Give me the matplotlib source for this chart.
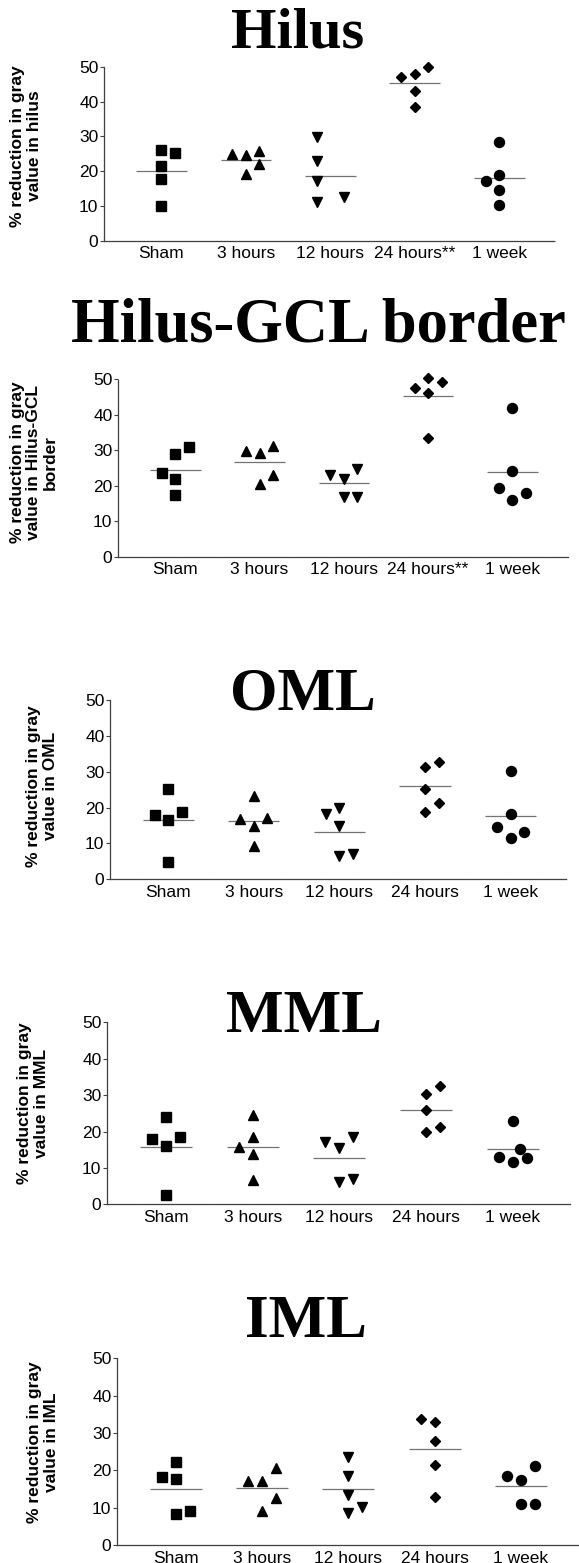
import matplotlib
matplotlib.use('Agg')

import numpy as np
import matplotlib.pyplot as plt

plt.rcParams['font.family'] = 'Liberation Sans'

# groups and symbols
groups = ['Sham', '3 hours', '12 hours', '24 hours', '1 week']
groups_sig = ['Sham', '3 hours', '12 hours', '24 hours**', '1 week']
markers = ['s', '^', 'v', 'D', 'o']

# % reduction in gray value, 5 animals per group
hilus = [[26.1, 25.3, 21.6, 17.7, 10.1],
         [24.9, 24.5, 25.9, 21.9, 19.2],
         [29.7, 22.8, 17.1, 11.0, 12.5],
         [46.9, 47.9, 50.0, 43.1, 38.3],
         [28.5, 18.9, 17.1, 14.6, 10.3]]
hilus_slots = [[0, 1, 0, 0, 0], [-1, 0, 1, 1, 0], [-1, -1, -1, -1, 1],
               [-1, 0, 1, 0, 0], [0, 0, -1, 0, 0]]

border = [[28.9, 30.8, 23.5, 21.8, 17.4],
          [29.8, 29.3, 31.2, 23.0, 20.5],
          [23.0, 22.0, 24.7, 16.9, 16.9],
          [47.4, 50.3, 49.2, 46.0, 33.3],
          [41.7, 24.2, 19.2, 18.0, 15.9]]
border_slots = [[0, 1, -1, 0, 0], [-1, 0, 1, 1, 0], [-1, 0, 1, 0, 1],
                [-1, 0, 1, 0, 0], [0, 0, -1, 1, 0]]

oml = [[25.2, 17.8, 18.7, 16.4, 4.9],
       [23.3, 16.7, 17.0, 14.9, 9.4],
       [18.2, 19.8, 15.0, 6.5, 7.0],
       [31.4, 32.8, 25.1, 21.4, 18.7],
       [30.2, 18.2, 14.7, 13.1, 11.4]]
oml_slots = [[0, -1, 1, 0, 0], [0, -1, 1, 0, 0], [-1, 0, 0, 0, 1],
             [0, 1, 0, 1, 0], [0, 0, -1, 1, 0]]

mml = [[24.1, 17.9, 18.6, 16.1, 2.6],
       [24.4, 18.4, 15.7, 13.8, 6.7],
       [17.2, 15.4, 18.4, 6.0, 6.9],
       [30.3, 32.6, 25.9, 20.0, 21.1],
       [23.0, 15.2, 12.9, 11.7, 12.8]]
mml_slots = [[0, -1, 1, 0, 0], [0, 0, -1, 0, 0], [-1, 0, 1, 0, 1],
             [0, 1, 0, 0, 1], [0, 0.5, -1, 0, 1]]

iml = [[22.1, 18.1, 17.7, 8.2, 9.1],
       [17.2, 17.2, 20.5, 12.7, 9.2],
       [23.7, 18.6, 13.4, 8.5, 10.3],
       [33.8, 32.9, 27.9, 21.4, 12.9],
       [18.6, 17.4, 21.2, 11.0, 11.0]]
iml_slots = [[0, -1, 0, 0, 1], [-1, 0, 1, 1, 0], [0, 0, 0, 0, 1],
             [-1, 0, 0, 0, 0], [-1, 0, 1, 0, 1]]

titles = ['Hilus', 'Hilus-GCL border', 'OML', 'MML', 'IML']
ylabels = ['% reduction in gray\nvalue in hilus',
           '% reduction in gray\nvalue in Hilus-GCL\nborder',
           '% reduction in gray\nvalue in OML',
           '% reduction in gray\nvalue in MML',
           '% reduction in gray\nvalue in IML']

W, H = 579, 1563
fig = plt.figure(figsize=(W / 100, H / 100), dpi=100)

# pixel layout: left, right, y(50), y(0), title x, title baseline, title size, ylabel x, ylabel y
layout = [(104, 555, 66.7, 240.7, 298, 48, 42, 26, 146),
          (118, 568, 379, 556.7, 318, 342, 45, 34, 462),
          (110, 567, 700, 879.3, 303, 710, 44, 42, 786),
          (107, 570, 1022.3, 1204.3, 304, 1032, 44, 33, 1103),
          (117, 578, 1358.3, 1545, 306, 1337, 44, 43, 1442)]

panels = [(hilus, hilus_slots, groups_sig), (border, border_slots, groups_sig),
          (oml, oml_slots, groups), (mml, mml_slots, groups), (iml, iml_slots, groups)]
msizes = {'s': 6.5, '^': 7.5, 'v': 7.5, 'D': 4.8, 'o': 7.2}

for p, ((vals, slots, labels), lay) in enumerate(zip(panels, layout)):
    l, r, ytop, ybot, tx, ty, tsize, lx, ly = lay
    ax = fig.add_axes([l / W, 1 - ybot / H, (r - l) / W, (ybot - ytop) / H])
    for i in range(5):
        x = i + 1 + np.asarray(slots[i]) * 0.16
        ax.plot(x, vals[i], ls='none', marker=markers[i], ms=msizes[markers[i]],
                color='black', clip_on=False, zorder=3)
        ax.hlines(np.mean(vals[i]), i + 1 - 0.3, i + 1 + 0.3, color='0.45', lw=0.9, zorder=2)

    ax.set_xlim(0.32, 5.66)
    ax.set_ylim(0, 50)
    ax.set_yticks([0, 10, 20, 30, 40, 50])
    ax.set_xticks(range(1, 6))
    ax.set_xticklabels(labels)
    for s in ['top', 'right']:
        ax.spines[s].set_visible(False)
    for s in ['left', 'bottom']:
        ax.spines[s].set_linestyle((0, (1.5, 0.8)))
        ax.spines[s].set_linewidth(0.9)
        ax.spines[s].set_color('0.25')
    ax.tick_params(axis='y', length=3, width=0.8, color='0.25', labelsize=12.5, pad=1)
    ax.tick_params(axis='x', length=0, labelsize=12.5, pad=4)
    ax.patch.set_alpha(0)

    fig.text(tx / W, 1 - ty / H, titles[p], ha='center', va='baseline',
             fontsize=tsize, fontweight='bold', family='Liberation Serif')
    fig.text(lx / W, 1 - ly / H, ylabels[p], rotation=90, ha='center', va='center',
             fontsize=12.5, fontweight='bold', linespacing=1.15, multialignment='center')

fig.savefig('out.png', dpi=100)
